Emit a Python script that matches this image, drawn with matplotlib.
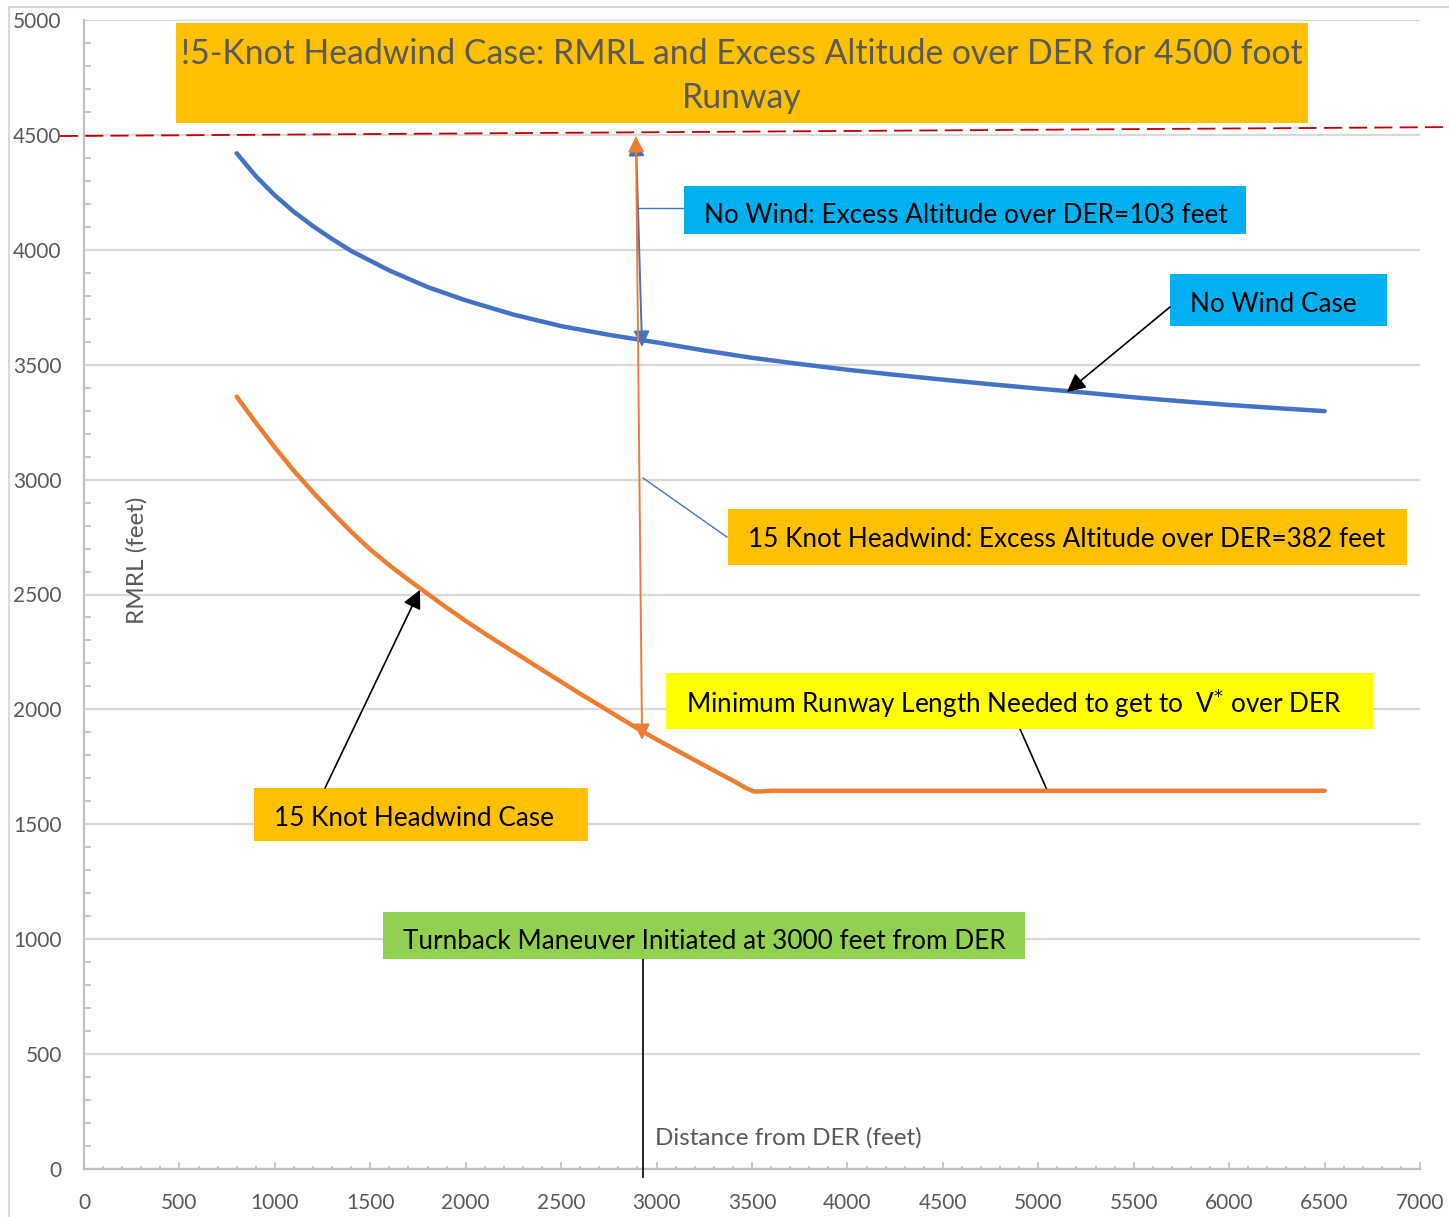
import matplotlib
matplotlib.use('Agg')
import matplotlib.pyplot as plt
from matplotlib.patches import Rectangle
from matplotlib.ticker import MultipleLocator

plt.rcParams['font.family'] = ['Lato', 'DejaVu Sans']

# curves (distance from DER vs RMRL, feet)
no_wind_x = [800, 900, 1000, 1100, 1200, 1300, 1400, 1600, 1800, 2000, 2250,
             2500, 2750, 3000, 3250, 3500, 3750, 4000, 4250, 4500, 4750, 5000,
             5250, 5500, 5750, 6000, 6250, 6500]
no_wind_y = [4420, 4321, 4237, 4165, 4103, 4047, 3995, 3910, 3838, 3780, 3718,
             3668, 3630, 3597, 3562, 3530, 3503, 3478, 3456, 3435, 3415, 3396,
             3378, 3358, 3341, 3325, 3311, 3298]

headwind_x = [800, 900, 1000, 1100, 1200, 1300, 1400, 1500, 1600, 1700, 1800,
              1900, 2000, 2100, 2200, 2300, 2400, 2500, 2600, 2700, 2800, 2900,
              3000, 3100, 3200, 3300, 3400, 3470, 3510, 3550, 3600, 4500, 5500,
              6500]
headwind_y = [3361, 3248, 3140, 3038, 2945, 2857, 2773, 2696, 2627, 2564, 2503,
              2443, 2385, 2330, 2277, 2225, 2172, 2120, 2068, 2018, 1967, 1917,
              1869, 1824, 1779, 1734, 1690, 1657, 1643, 1643, 1646, 1646, 1646,
              1646]

title = '!5-Knot Headwind Case: RMRL and Excess Altitude over DER for 4500 foot\nRunway'
xlabel = 'Distance from DER (feet)'
ylabel = 'RMRL (feet)'

GRAY = '#595959'
BLUE = '#4472C4'
ORANGE = '#ED7D31'
GOLD = '#FFC000'
CYAN = '#00B0F0'

fig = plt.figure(figsize=(14.49, 12.17), dpi=100)
ax = fig.add_axes([84 / 1449, 1 - 1169 / 1217, 1336 / 1449, 1149 / 1217])

# outer chart frame (cropped on the right and bottom)
fig.patches.append(Rectangle((9 / 1449, -0.05), 1.2, 1.05 - 7 / 1217,
                             transform=fig.transFigure, fill=False,
                             ec='#d9d9d9', lw=1.5, zorder=0))

ax.plot(no_wind_x, no_wind_y, color=BLUE, lw=3.2, solid_capstyle='round',
        solid_joinstyle='round', zorder=4)
ax.plot(headwind_x, headwind_y, color=ORANGE, lw=3.2, solid_capstyle='round',
        solid_joinstyle='round', zorder=4)

ax.set_xlim(0, 7000)
ax.set_ylim(0, 5000)
ax.xaxis.set_major_locator(MultipleLocator(500))
ax.xaxis.set_minor_locator(MultipleLocator(100))
ax.yaxis.set_major_locator(MultipleLocator(500))
ax.yaxis.set_minor_locator(MultipleLocator(100))
ax.grid(axis='y', which='major', color='#d9d9d9', lw=1.6, zorder=0)
ax.set_axisbelow(True)
for s in ['top', 'right']:
    ax.spines[s].set_visible(False)
for s in ['left', 'bottom']:
    ax.spines[s].set_color('#bfbfbf')
    ax.spines[s].set_linewidth(1.6)
ax.tick_params(axis='x', which='major', direction='in', length=5, width=1.2,
               color='#bfbfbf', labelsize=15, labelcolor=GRAY, pad=17)
ax.tick_params(axis='x', which='minor', direction='in', length=2.5, width=1.2,
               color='#bfbfbf')
ax.tick_params(axis='y', which='major', direction='in', length=0,
               labelsize=15, labelcolor=GRAY, pad=16)
ax.tick_params(axis='y', which='minor', direction='in', length=5, width=1.2,
               color='#bfbfbf')

ax.text(2992, 135, xlabel, fontsize=17.5, color=GRAY, va='center', ha='left')
ax.text(278, 2650, ylabel, fontsize=17.5, color=GRAY, rotation=90,
        va='center', ha='center')

# 4500 ft runway line
ax.plot([-126, 7152], [4495, 4534], color='#C00000', lw=1.3, ls=(0, (10, 4)),
        clip_on=False, zorder=3)

# text boxes: (x0, x1, y0, y1), colour
boxes = [
    ((482, 6413, 4552, 4987), GOLD),
    ((3144, 6088, 4069, 4278), CYAN),
    ((5690, 6827, 3668, 3895), CYAN),
    ((3374, 6932, 2628, 2872), GOLD),
    ((3049, 6754, 1915, 2158), '#FFFF00'),
    ((891, 2641, 1427, 1658), GOLD),
    ((1567, 4930, 914, 1118), '#92D050'),
]
for (x0, x1, y0, y1), c in boxes:
    ax.add_patch(Rectangle((x0, y0), x1 - x0, y1 - y0, fc=c, ec='none', zorder=5))

ax.text(3448, 4755, title, fontsize=24.3, color=GRAY, ha='center', va='center',
        linespacing=1.45, zorder=6)
labels = [
    (3248, 4150, 'No Wind: Excess Altitude over DER=103 feet'),
    (5795, 3762, 'No Wind Case'),
    (3479, 2740, '15 Knot Headwind: Excess Altitude over DER=382 feet'),
    (3154, 2026, 'Minimum Runway Length Needed to get to  V$^{*}$ over DER'),
    (995, 1526, '15 Knot Headwind Case'),
    (1671, 991, 'Turnback Maneuver Initiated at 3000 feet from DER'),
]
for x, y, t in labels:
    ax.text(x, y, t, fontsize=18.8, color='black', ha='left', va='center', zorder=6)

# connector lines
ax.plot([3144, 2897], [4182, 4182], color=BLUE, lw=1, zorder=3)
ax.plot([3369, 2929], [2750, 3007], color=BLUE, lw=1, zorder=3)
ax.plot([4904, 5046], [1915, 1649], color='black', lw=1.2, zorder=3)
ax.plot([2929, 2929], [914, -35], color='black', lw=1.2, clip_on=False, zorder=3)

# arrows
ax.annotate('', xy=(5150, 3381), xytext=(5690, 3751),
            arrowprops=dict(arrowstyle='-|>', color='black', lw=1.2,
                            mutation_scale=28, shrinkA=0, shrinkB=0), zorder=6)
ax.annotate('', xy=(1760, 2520), xytext=(1263, 1658),
            arrowprops=dict(arrowstyle='-|>', color='black', lw=1.2,
                            mutation_scale=28, shrinkA=0, shrinkB=0), zorder=6)
ax.annotate('', xy=(2892, 4478), xytext=(2924, 3577),
            arrowprops=dict(arrowstyle='<|-|>', color=BLUE, lw=1.4,
                            mutation_scale=24, shrinkA=0, shrinkB=0), zorder=6)
ax.annotate('', xy=(2892, 4495), xytext=(2924, 1867),
            arrowprops=dict(arrowstyle='<|-|>', color=ORANGE, lw=1.4,
                            mutation_scale=24, shrinkA=0, shrinkB=0), zorder=6)

fig.savefig('out.png', dpi=100)
